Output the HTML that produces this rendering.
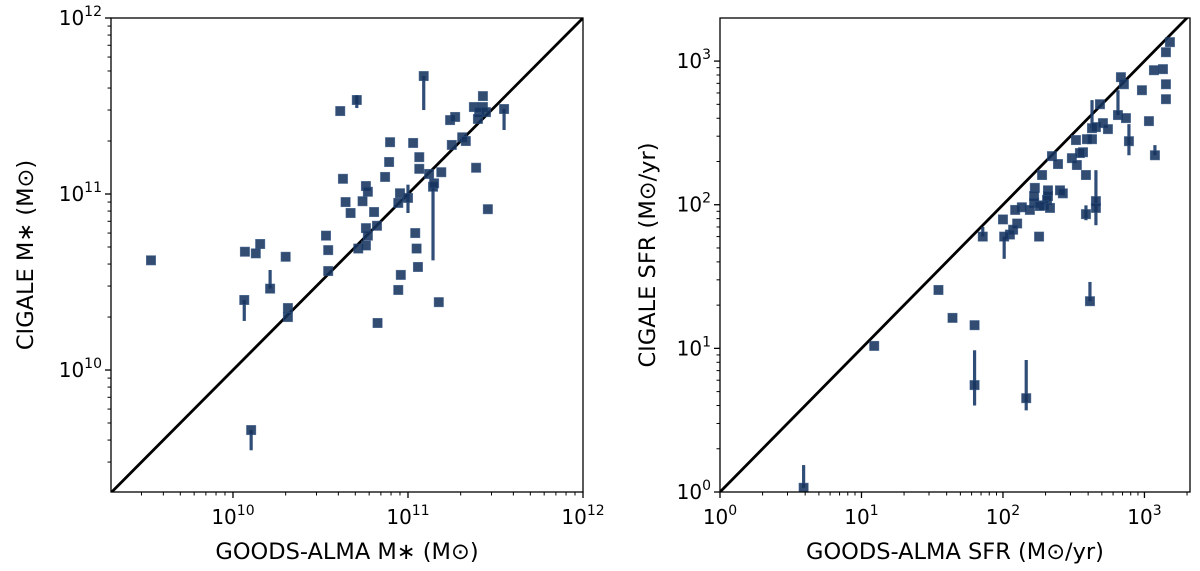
<!DOCTYPE html>
<html><head><meta charset="utf-8"><style>
html,body{margin:0;padding:0;background:#fff;}
svg{display:block;font-family:"DejaVu Sans","Liberation Sans",sans-serif;}
</style></head><body>
<svg id="fig" width="1200" height="571" viewBox="0 0 1200 571"></svg>
<script>
// ---- Left panel data: stellar mass ----
const massGoods = [3.4e9,1.17e10,1.35e10,1.43e10,1.63e10,1.16e10,2.0e10,2.06e10,2.06e10,6.7e10,3.4e10,3.5e10,3.5e10,5.2e10,5.75e10,5.75e10,6.65e10,5.9e10,4.7e10,4.4e10,6.4e10,5.5e10,5.75e10,5.9e10,4.25e10,7.4e10,7.8e10,7.9e10,1.07e11,1.16e11,1.16e11,1.32e11,1.55e11,9.0e10,8.8e10,1.0e11,1.39e11,1.41e11,1.1e11,1.12e11,1.14e11,9.1e10,8.8e10,1.5e11,2.86e11,2.45e11,1.78e11,2.04e11,2.14e11,1.74e11,1.86e11,2.38e11,2.68e11,2.68e11,2.55e11,2.79e11,2.51e11,3.54e11,1.23e11,5.1e10,4.1e10,1.27e10];
const massCigale = [4.2e10,4.7e10,4.6e10,5.2e10,2.9e10,2.5e10,4.4e10,2.25e10,2.0e10,1.85e10,5.8e10,4.8e10,3.65e10,4.9e10,5.1e10,6.4e10,6.6e10,5.8e10,7.8e10,9.0e10,7.9e10,9.1e10,1.11e11,1.03e11,1.22e11,1.25e11,1.52e11,1.97e11,1.95e11,1.62e11,1.39e11,1.3e11,1.33e11,1.01e11,8.9e10,9.5e10,1.1e11,1.15e11,6.0e10,4.9e10,3.85e10,3.47e10,2.85e10,2.43e10,8.2e10,1.41e11,1.9e11,2.1e11,2.0e11,2.63e11,2.74e11,3.12e11,3.6e11,3.12e11,2.92e11,2.92e11,2.67e11,3.04e11,4.68e11,3.42e11,2.96e11,4.56e9];
// error bar extents (0 = none)
const massErrLo = [0,0,0,0,0,1.9e10,0,0,0,0,0,0,0,0,0,0,0,0,0,0,0,0,0,0,0,0,0,0,0,0,0,0,0,0,0,7.8e10,4.2e10,0,0,0,0,0,0,0,0,0,0,0,0,0,0,0,0,0,0,0,0,2.31e11,3.0e11,3.08e11,0,3.5e9];
const massErrHi = [0,0,0,0,3.7e10,0,0,0,0,0,0,0,0,0,0,0,0,0,0,0,0,0,0,0,0,0,0,0,0,0,0,0,0,0,0,1.13e11,0,0,0,0,0,0,0,0,0,0,0,0,0,0,0,0,0,0,0,0,0,0,0,3.65e11,0,0];
const massTicks = [1e10,1e11,1e12];
const massTickExp = ["10","11","12"];

// ---- Right panel data: SFR ----
const sfrGoods = [1514,1419,1167,1352,1419,1419,960,682,716,650,740,1076,777,1186,485,426,454,509,552,328,392,426,368,307,333,350,222,245,189,386,168,208,253,265,166,208,205,166,195,215,155,136,122,182,454,454,386,100,126,118,112,102,72,180,35,412,12.3,44,63,63,146,3.9];
const sfrCigale = [1355,1153,864,879,690,543,627,773,690,421,401,382,277,221,501,341,347,370,336,282,286,286,232,211,189,229,218,192,161,161,131,126,126,120,115,115,108,103,99,95,92,96,92,98,106,95,86,79,74,67,62,60,60,60,25.5,21.3,10.4,16.3,14.5,5.55,4.5,1.07];
const sfrErrLo = [0,0,0,0,0,0,0,0,0,0,0,0,221,0,0,0,0,0,0,0,0,0,0,0,0,0,0,0,0,0,0,0,0,0,0,0,0,0,0,0,0,0,0,0,72,0,78,0,0,0,0,42,0,0,0,0,0,0,0,4.0,3.7,0];
const sfrErrHi = [0,0,0,0,0,0,0,0,0,627,0,0,364,260,0,535,0,0,0,0,0,0,0,0,0,0,0,0,0,0,0,0,0,0,0,0,0,0,0,0,0,0,0,0,174,0,99,0,0,0,0,0,70,0,0,29,0,0,0,9.7,8.3,1.54];
const sfrTicks = [1,10,100,1000];
const sfrTickExp = ["0","1","2","3"];

const NS = "http://www.w3.org/2000/svg";
const svg = document.getElementById('fig');
function mk(tag, attrs, parent){
  const e = document.createElementNS(NS, tag);
  for (const k in attrs) e.setAttribute(k, attrs[k]);
  (parent||svg).appendChild(e);
  return e;
}

function panel(cfg){
  const g = mk('g', {});
  
  
  const L = cfg.left, R = cfg.right, T = cfg.top, B = cfg.bottom;
  const sx = v => L + (Math.log10(v) - cfg.xmin) / (cfg.xmax - cfg.xmin) * (R - L);
  const sy = v => B - (Math.log10(v) - cfg.ymin) / (cfg.ymax - cfg.ymin) * (B - T);
  const clipId = cfg.name + '-clip';
  const cp = mk('clipPath', {id: clipId}, g);
  mk('rect', {x: L, y: T, width: R - L, height: B - T}, cp);
  const plot = mk('g', {'clip-path': 'url(#' + clipId + ')'}, g);
  
  
  const lo = Math.pow(10, Math.min(cfg.xmin, cfg.ymin)), hi = Math.pow(10, Math.max(cfg.xmax, cfg.ymax));
  const line = mk('line', {x1: sx(lo), y1: sy(lo), x2: sx(hi), y2: sy(hi), stroke: '#000', 'stroke-width': 2.8}, plot);
  
  
  for (let i = 0; i < cfg.xs.length; i++){
    const px = sx(cfg.xs[i]), py = sy(cfg.ys[i]);
    const lov = cfg.elo[i] || cfg.ys[i], hiv = cfg.ehi[i] || cfg.ys[i];
    if (cfg.elo[i] || cfg.ehi[i]){
      const eb = mk('line', {x1: px, x2: px, y1: sy(lov), y2: sy(hiv), stroke: '#1a3a68', 'stroke-width': 3.2, 'stroke-opacity': 0.9}, plot);
      
      
    }
    const m = mk('rect', {x: px - 4.5, y: py - 4.5, width: 9, height: 9, fill: '#16335f', 'fill-opacity': 0.88, stroke: '#2a4a78', 'stroke-opacity': 0.7, 'stroke-width': 1}, plot);
    
    
  }
  const fr = mk('rect', {x: L, y: T, width: R - L, height: B - T, fill: 'none', stroke: '#000', 'stroke-width': 1.3}, g);
  
  
  const minorX = [], minorY = [];
  for (let d = Math.floor(cfg.xmin); d <= Math.ceil(cfg.xmax); d++)
    for (let k = 1; k < 10; k++){ const v = k * Math.pow(10, d); const lv = Math.log10(v); if (lv >= cfg.xmin - 1e-9 && lv <= cfg.xmax + 1e-9) minorX.push([v, k === 1]); }
  for (let d = Math.floor(cfg.ymin); d <= Math.ceil(cfg.ymax); d++)
    for (let k = 1; k < 10; k++){ const v = k * Math.pow(10, d); const lv = Math.log10(v); if (lv >= cfg.ymin - 1e-9 && lv <= cfg.ymax + 1e-9) minorY.push([v, k === 1]); }
  minorX.forEach(([v, maj]) => { const x = sx(v); mk('line', {x1: x, x2: x, y1: B, y2: B + (maj ? 6 : 3.5), stroke: '#000', 'stroke-width': maj ? 1.3 : 1}, g); });
  minorY.forEach(([v, maj]) => { const y = sy(v); mk('line', {x1: L, x2: L - (maj ? 6 : 3.5), y1: y, y2: y, stroke: '#000', 'stroke-width': maj ? 1.3 : 1}, g); });
  cfg.xticks.forEach((v, i) => {
    const t = mk('text', {x: sx(v), y: B + 32, 'text-anchor': 'middle', 'font-size': 20}, g);
    
    
    t.appendChild(document.createTextNode('10'));
    const s = mk('tspan', {'font-size': 14, dy: -9}, t); s.textContent = cfg.xexp[i];
  });
  cfg.yticks.forEach((v, i) => {
    const t = mk('text', {x: L - 9, y: sy(v) + 7, 'text-anchor': 'end', 'font-size': 20}, g);
    
    
    t.appendChild(document.createTextNode('10'));
    const s = mk('tspan', {'font-size': 14, dy: -9}, t); s.textContent = cfg.yexp[i];
  });
  const xt = mk('text', {x: (L + R) / 2, y: 559, 'text-anchor': 'middle', 'font-size': 22.5}, g);
  
  
  xt.textContent = cfg.xtitle;
  const yt = mk('text', {x: 0, y: 0, 'text-anchor': 'middle', 'font-size': 22.5, transform: 'translate(' + cfg.ytx + ',' + ((T + B) / 2) + ') rotate(-90)'}, g);
  
  
  yt.textContent = cfg.ytitle;
}

panel({name: 'mass-panel', left: 111, right: 583, top: 18, bottom: 492,
  xmin: 9.303, xmax: 12, ymin: 9.307, ymax: 12,
  xs: massGoods, ys: massCigale, elo: massErrLo, ehi: massErrHi,
  xticks: massTicks, xexp: massTickExp, yticks: massTicks, yexp: massTickExp,
  xtitle: 'GOODS-ALMA M\u2217 (M\u2299)', ytitle: 'CIGALE M\u2217 (M\u2299)', ytx: 33});

panel({name: 'sfr-panel', left: 720, right: 1190, top: 18, bottom: 492,
  xmin: 0, xmax: 3.322, ymin: 0, ymax: 3.30,
  xs: sfrGoods, ys: sfrCigale, elo: sfrErrLo, ehi: sfrErrHi,
  xticks: sfrTicks, xexp: sfrTickExp, yticks: sfrTicks, yexp: sfrTickExp,
  xtitle: 'GOODS-ALMA SFR (M\u2299/yr)', ytitle: 'CIGALE SFR (M\u2299/yr)', ytx: 655});
</script>
</body></html>
